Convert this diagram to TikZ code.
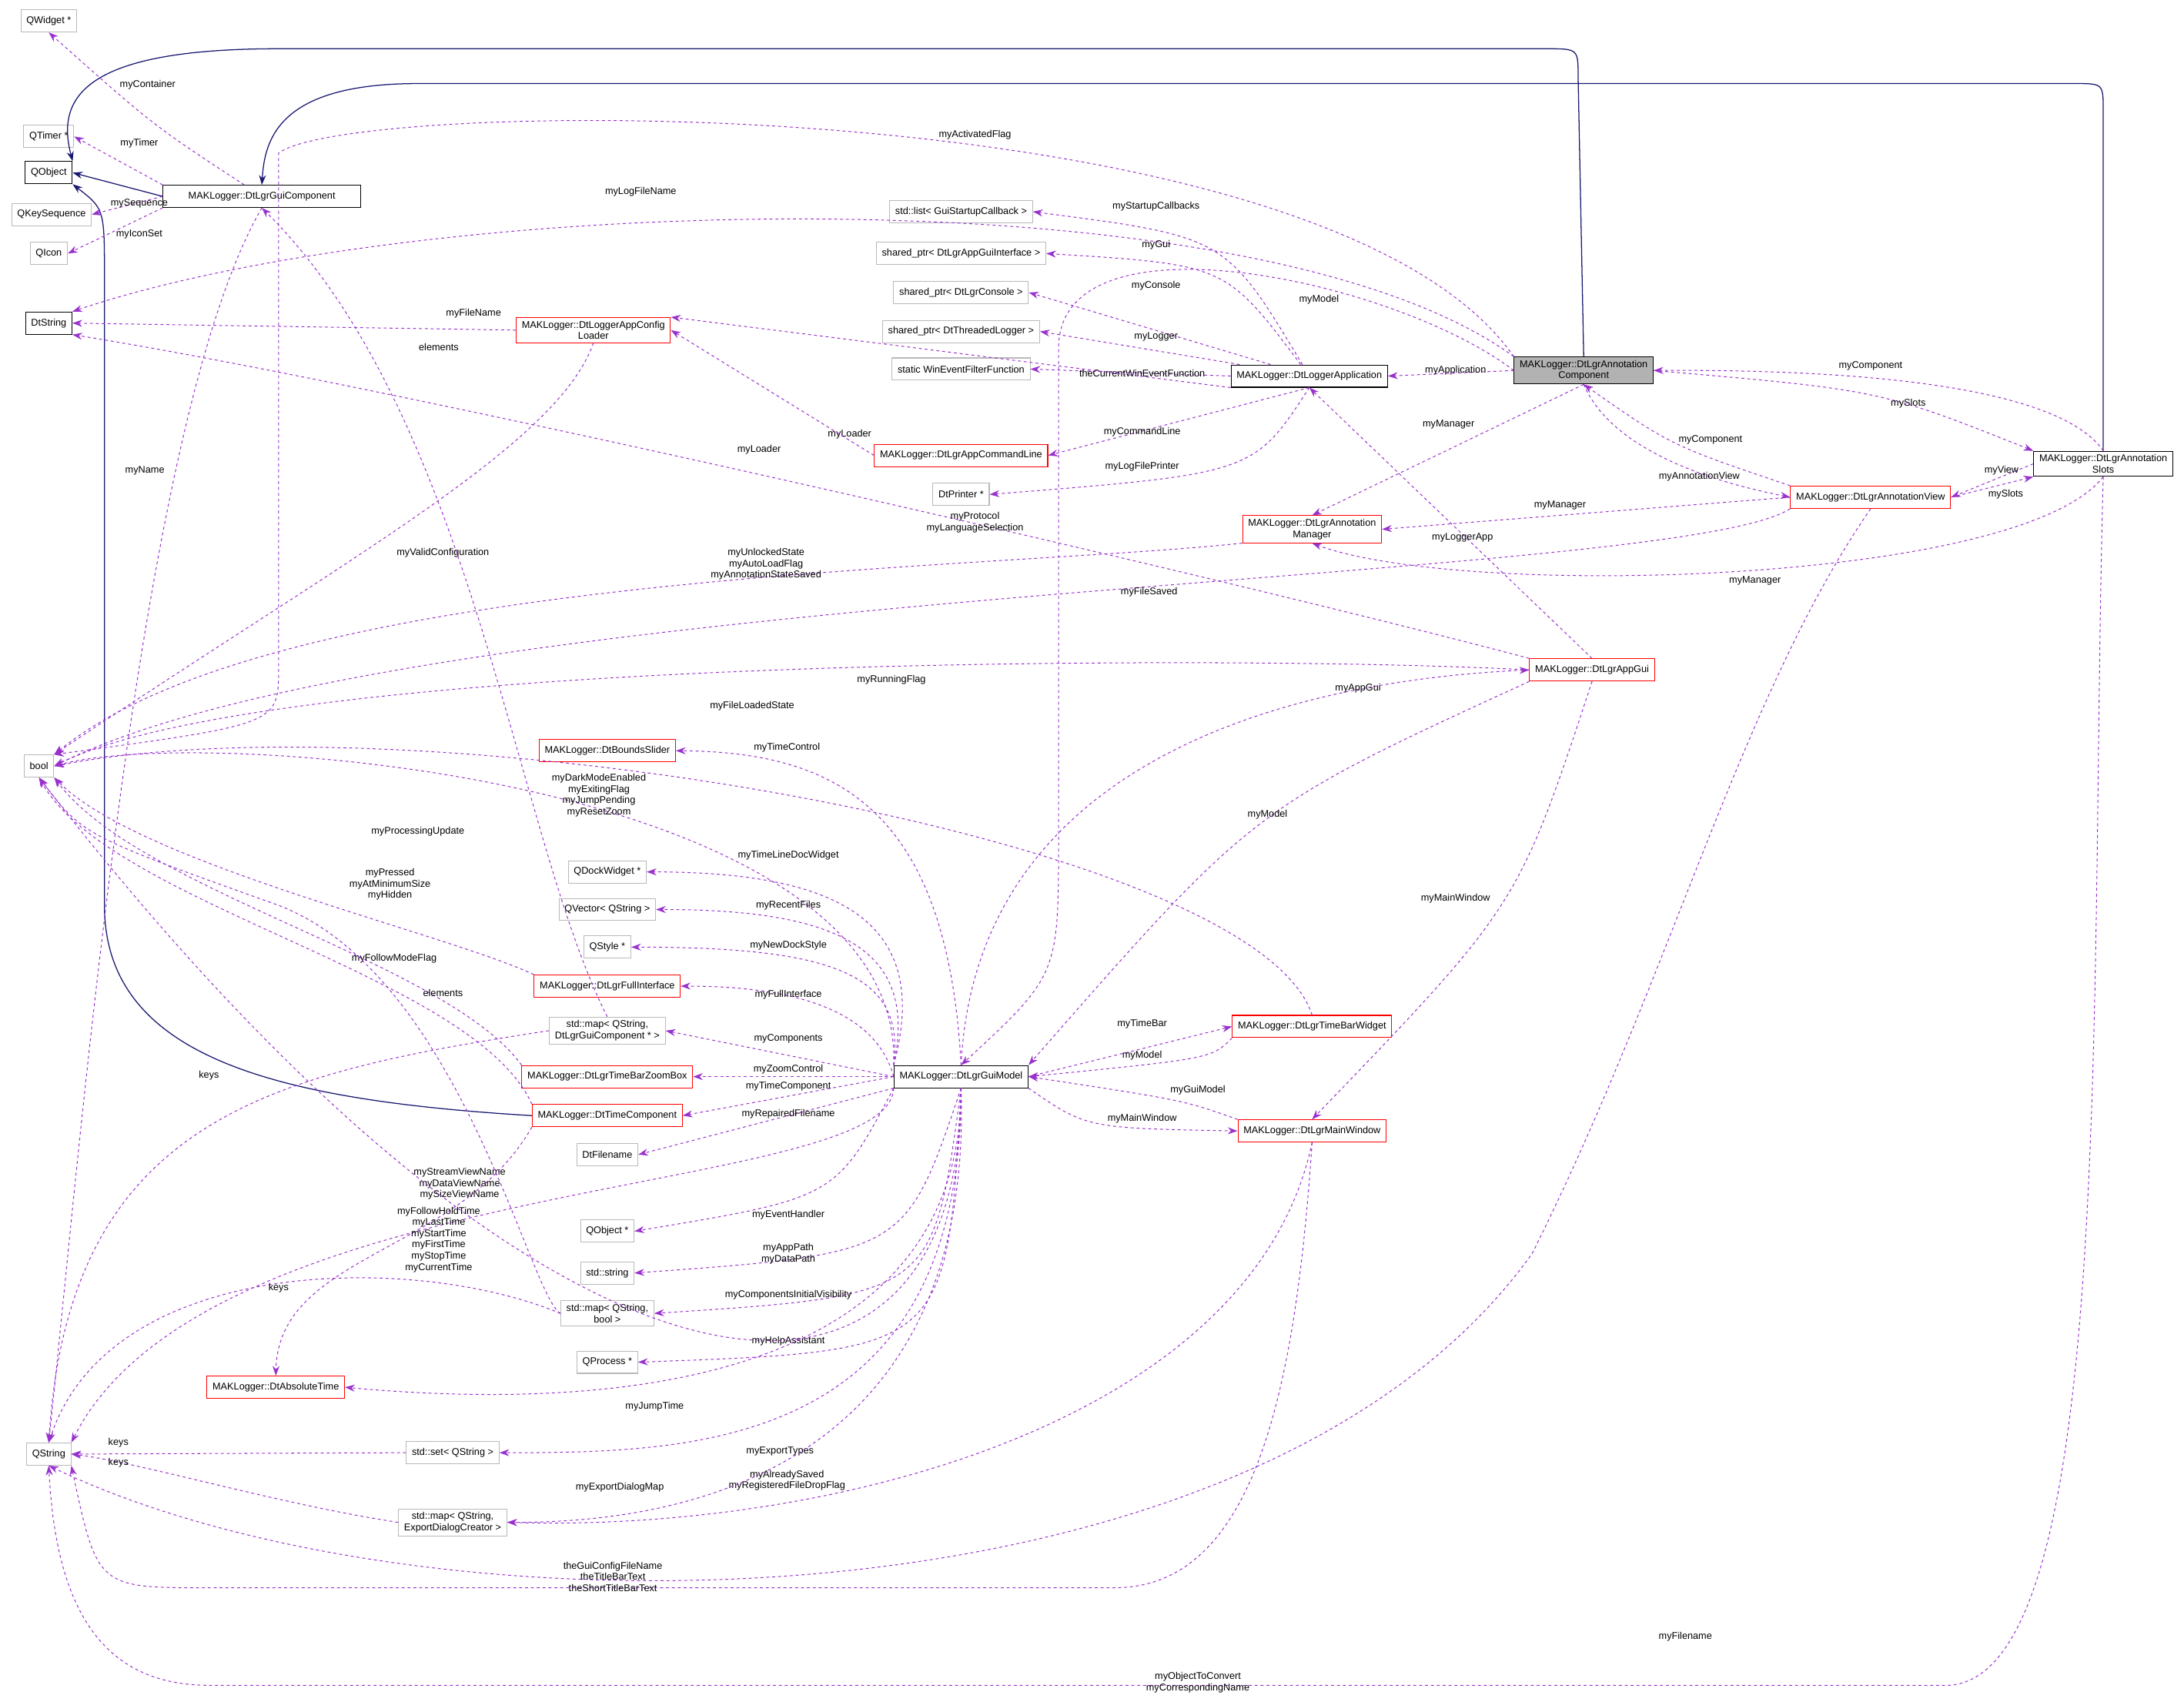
\documentclass[tikz,border=0pt]{standalone}
\usepackage{fontspec}
\setmainfont{Liberation Sans}
\usetikzlibrary{arrows.meta}
\definecolor{dep}{RGB}{153,50,205}
\definecolor{nav}{RGB}{25,25,112}
\begin{document}
\begin{tikzpicture}[x=0.05cm,y=-0.05cm,
 every node/.style={font=\fontsize{10}{11.5}\selectfont},
 b/.style={draw=black,line width=0.8pt,minimum height=0.8cm,inner xsep=0.2cm,inner ysep=0.12cm,align=center},
 g/.style={b,draw=gray!55},
 r/.style={b,draw=red},
 d/.style={dep,dashed,line width=0.8pt,-{Stealth[length=0.35cm,width=0.25cm]}},
 inh/.style={nav,line width=1pt,-{Stealth[length=0.35cm,width=0.25cm]}},
 l/.style={inner sep=1pt,align=center}]
\useasboundingbox (0,0) rectangle (1568,1222);
% nodes
\node[g] (qw) at (35,15) {QWidget *};
\node[g] (qt) at (35,98) {QTimer *};
\node[b] (qo) at (35,124) {QObject};
\node[g] (qks) at (37,154) {QKeySequence};
\node[g] (qi) at (35,182) {QIcon};
\node[b,minimum width=7.1cm] (gc) at (188,141) {MAKLogger::DtLgrGuiComponent};
\node[b] (ds) at (35,232) {DtString};
\node[r] (cl) at (426,237) {MAKLogger::DtLoggerAppConfig\\Loader};
\node[g] (bo) at (28,550) {bool};
\node[r] (bs) at (436,539) {MAKLogger::DtBoundsSlider};
\node[g] (qd) at (436,626) {QDockWidget *};
\node[g] (qv) at (436,653) {QVector< QString >};
\node[g] (qs) at (436,680) {QStyle *};
\node[r] (fi) at (436,708) {MAKLogger::DtLgrFullInterface};
\node[g] (mgc) at (436,740) {std::map< QString,\\DtLgrGuiComponent * >};
\node[r] (zb) at (436,773) {MAKLogger::DtLgrTimeBarZoomBox};
\node[r] (tc) at (436,801) {MAKLogger::DtTimeComponent};
\node[g] (fn) at (436,829) {DtFilename};
\node[g] (qop) at (436,884) {QObject *};
\node[g] (ss) at (436,914) {std::string};
\node[g] (mqb) at (436,943) {std::map< QString,\\bool >};
\node[g] (qp) at (436,978) {QProcess *};
\node[r] (at) at (198,996) {MAKLogger::DtAbsoluteTime};
\node[g] (qstr) at (35,1044) {QString};
\node[g] (set) at (325,1043) {std::set< QString >};
\node[g] (med) at (325,1093) {std::map< QString,\\ExportDialogCreator >};
\node[b] (gm) at (690,773) {MAKLogger::DtLgrGuiModel};
\node[g] (lst) at (690,152) {std::list< GuiStartupCallback >};
\node[g] (spg) at (690,182) {shared\_ptr< DtLgrAppGuiInterface >};
\node[g] (spc) at (690,210) {shared\_ptr< DtLgrConsole >};
\node[g] (spl) at (690,238) {shared\_ptr< DtThreadedLogger >};
\node[g] (sw) at (690,265) {static WinEventFilterFunction};
\node[r] (acl) at (690,327) {MAKLogger::DtLgrAppCommandLine};
\node[g] (dp) at (690,355) {DtPrinter *};
\node[b] (la) at (940,270) {MAKLogger::DtLoggerApplication};
\node[b,fill=gray!60] (ac) at (1137,266) {MAKLogger::DtLgrAnnotation\\Component};
\node[r] (am) at (942,380) {MAKLogger::DtLgrAnnotation\\Manager};
\node[r] (av) at (1343,357) {MAKLogger::DtLgrAnnotationView};
\node[b] (sl) at (1510,333) {MAKLogger::DtLgrAnnotation\\Slots};
\node[r] (ag) at (1143,481) {MAKLogger::DtLgrAppGui};
\node[r] (tb) at (942,737) {MAKLogger::DtLgrTimeBarWidget};
\node[r] (mw) at (942,812) {MAKLogger::DtLgrMainWindow};
% inheritance
\draw[inh] (ac.north) -- (1133,55) .. controls (1133,35) .. (1110,35) -- (200,35) .. controls (60,35) and (40,70) .. (qo.north east);
\draw[inh] (sl.north) -- (1510,80) .. controls (1510,60) .. (1490,60) -- (300,60) .. controls (200,60) and (190,100) .. (gc.north);
\draw[inh] (gc.west) -- (qo.east);
\draw[inh] (tc.west) .. controls (200,790) and (75,760) .. (75,650) -- (75,200) .. controls (75,150) .. (qo.south east);
% GuiComponent
\draw[d] (gc) .. controls (110,90) .. (qw.south); \node[l] at (106,61) {myContainer};
\draw[d] (gc.north west) -- (qt.east); \node[l] at (100,103) {myTimer};
\draw[d] (gc.west) -- (qks.east); \node[l] at (100,146) {mySequence};
\draw[d] (gc.south west) -- (qi.east); \node[l] at (100,168) {myIconSet};
\draw[d] (gc.south) .. controls (100,300) and (60,800) .. (qstr.north); \node[l] at (104,338) {myName};
% AnnotationComponent
\draw[d] (ac.north west) .. controls (900,120) and (300,140) .. (ds.north east); \node[l] at (460,138) {myLogFileName};
\draw[d] (ac.north west) .. controls (950,60) and (250,70) .. (200,110) -- (200,480) .. controls (200,520) .. (bo.north east); \node[l] at (700,97) {myActivatedFlag};
\draw[d] (ac.west) .. controls (1000,200) and (760,150) .. (760,250) -- (760,600) .. controls (760,700) .. (gm.north); \node[l] at (947,215) {myModel};
\draw[d] (ac.west) -- (la.east); \node[l] at (1045,266) {myApplication};
\draw[d] (ac.south) -- (am.north); \node[l] at (1040,305) {myManager};
\draw[d] (ac.east) .. controls (1350,280) .. (sl.north west); \node[l] at (1370,290) {mySlots};
\draw[d] (ac.south) .. controls (1160,330) and (1250,350) .. (av.west); \node[l] at (1220,342) {myAnnotationView};
% LoggerApplication
\draw[d] (la) .. controls (880,170) .. (lst.east); \node[l] at (830,148) {myStartupCallbacks};
\draw[d] (la) .. controls (880,190) .. (spg.east); \node[l] at (830,176) {myGui};
\draw[d] (la) -- (spc.east); \node[l] at (830,205) {myConsole};
\draw[d] (la) -- (spl.east); \node[l] at (830,242) {myLogger};
\draw[d] (la.west) -- (sw.east); \node[l] at (820,268) {theCurrentWinEventFunction};
\draw[d] (la.south west) -- (cl.north east); \node[l] at (610,312) {myLoader};
\draw[d] (la.south) -- (acl.east); \node[l] at (820,310) {myCommandLine};
\draw[d] (la.south) .. controls (900,340) .. (dp.east); \node[l] at (820,335) {myLogFilePrinter};
% ConfigLoader, CommandLine
\draw[d] (cl.west) -- (ds.east); \node[l] at (340,225) {myFileName};
\draw[d] (cl.south) .. controls (400,320) and (250,400) .. (bo.north east); \node[l] at (318,397) {myValidConfiguration};
\draw[d] (acl.west) -- (cl.east); \node[l] at (545,323) {myLoader};
% Annotation Manager, View, Slots
\draw[d] (am.south west) .. controls (700,410) and (200,410) .. (bo.north east); \node[l] at (550,405) {myUnlockedState\\myAutoLoadFlag\\myAnnotationStateSaved};
\draw[d] (av.north west) .. controls (1200,320) .. (ac.south); \node[l] at (1228,316) {myComponent};
\draw[d] (av.west) -- (am.east); \node[l] at (1120,363) {myManager};
\draw[d] (av.south west) .. controls (1200,420) and (300,420) .. (bo.east); \node[l] at (825,425) {myFileSaved};
\draw[d] (av.south) .. controls (1250,500) and (1200,700) .. (1100,900) .. controls (900,1180) and (300,1180) .. (qstr.south); \node[l] at (1210,1175) {myFilename};
\draw[d] (sl.west) -- (av.east); \node[l] at (1437,338) {myView};
\draw[d] (av.east) -- (sl.south west); \node[l] at (1440,355) {mySlots};
\draw[d] (sl.north) .. controls (1480,280) and (1350,265) .. (ac.east); \node[l] at (1343,263) {myComponent};
\draw[d] (sl.south) .. controls (1450,420) and (1050,430) .. (am.south); \node[l] at (1260,417) {myManager};
\draw[d] (sl.south) .. controls (1500,700) and (1520,1200) .. (1400,1210) -- (150,1210) .. controls (70,1210) and (40,1150) .. (qstr.south); \node[l] at (860,1208) {myObjectToConvert\\myCorrespondingName};
% AppGui
\draw[d] (ag.north) -- (la.south); \node[l] at (1050,386) {myLoggerApp};
\draw[d] (ag.north west) .. controls (900,420) and (300,280) .. (ds.south east); \node[l] at (700,375) {myProtocol\\myLanguageSelection};
\draw[d] (ag.west) .. controls (900,470) and (200,470) .. (bo.east); \node[l] at (640,488) {myRunningFlag};
\draw[d] (ag.south west) .. controls (900,580) .. (gm.north east); \node[l] at (910,585) {myModel};
\draw[d] (ag.south) .. controls (1090,650) .. (mw.north); \node[l] at (1045,645) {myMainWindow};
% GuiModel
\draw[d] (gm.north) .. controls (700,560) and (900,490) .. (ag.west); \node[l] at (975,494) {myAppGui};
\draw[d] (gm.north) .. controls (680,580) and (600,540) .. (bs.east); \node[l] at (565,537) {myTimeControl};
\draw[d] (gm.north west) .. controls (650,560) and (150,520) .. (bo.east); \node[l] at (430,571) {myDarkModeEnabled\\myExitingFlag\\myJumpPending\\myResetZoom};
\draw[d] (gm.north west) .. controls (670,660) and (600,626) .. (qd.east); \node[l] at (566,614) {myTimeLineDocWidget};
\draw[d] (gm.north west) .. controls (660,680) and (600,653) .. (qv.east); \node[l] at (566,650) {myRecentFiles};
\draw[d] (gm.north west) .. controls (650,700) and (600,680) .. (qs.east); \node[l] at (566,679) {myNewDockStyle};
\draw[d] (gm.west) .. controls (630,730) and (580,708) .. (fi.east); \node[l] at (566,714) {myFullInterface};
\draw[d] (gm.west) -- (mgc.east); \node[l] at (566,746) {myComponents};
\draw[d] (gm.west) -- (zb.east); \node[l] at (566,768) {myZoomControl};
\draw[d] (gm.west) -- (tc.east); \node[l] at (566,780) {myTimeComponent};
\draw[d] (gm.south west) -- (fn.east); \node[l] at (566,800) {myRepairedFilename};
\draw[d] (gm.south west) .. controls (600,860) .. (qop.east); \node[l] at (566,872) {myEventHandler};
\draw[d] (gm.south) .. controls (650,900) .. (ss.east); \node[l] at (566,900) {myAppPath\\myDataPath};
\draw[d] (gm.south) .. controls (670,930) .. (mqb.east); \node[l] at (566,930) {myComponentsInitialVisibility};
\draw[d] (gm.south) .. controls (680,970) .. (qp.east); \node[l] at (566,963) {myHelpAssistant};
\draw[d] (gm.south west) .. controls (640,860) and (150,840) .. (qstr.north east); \node[l] at (330,850) {myStreamViewName\\myDataViewName\\mySizeViewName};
\draw[d] (gm.south) .. controls (690,1010) and (400,1010) .. (at.east); \node[l] at (470,1010) {myJumpTime};
\draw[d] (gm.south) .. controls (690,1040) and (500,1043) .. (set.east); \node[l] at (560,1042) {myExportTypes};
\draw[d] (gm.south) .. controls (690,1060) and (400,1040) .. (bo.south); \node[l] at (565,1063) {myAlreadySaved\\myRegisteredFileDropFlag};
\draw[d] (gm.south) .. controls (700,1080) and (450,1093) .. (med.east); \node[l] at (445,1068) {myExportDialogMap};
\draw[d] (gm.east) -- (tb.west); \node[l] at (820,735) {myTimeBar};
\draw[d] (gm.south east) .. controls (780,810) .. (mw.west); \node[l] at (820,803) {myMainWindow};
% TimeBarWidget, MainWindow
\draw[d] (tb.south west) .. controls (870,760) .. (gm.east); \node[l] at (820,758) {myModel};
\draw[d] (tb.north) .. controls (900,600) and (300,500) .. (bo.east); \node[l] at (540,507) {myFileLoadedState};
\draw[d] (mw.north west) .. controls (850,790) .. (gm.east); \node[l] at (860,783) {myGuiModel};
\draw[d] (mw.south) .. controls (930,1000) and (900,1140) .. (800,1140) -- (150,1140) .. controls (70,1140) .. (qstr.south east); \node[l] at (440,1132) {theGuiConfigFileName\\theTitleBarText\\theShortTitleBarText};
\draw[d] (mw.south) .. controls (900,1020) and (600,1100) .. (med.east);
% others
\draw[d] (fi.north west) .. controls (320,670) and (100,620) .. (bo.south east); \node[l] at (300,597) {myProcessingUpdate};
\draw[d] (zb.north west) .. controls (320,690) and (100,640) .. (bo.south east); \node[l] at (280,635) {myPressed\\myAtMinimumSize\\myHidden};
\draw[d] (tc.north west) .. controls (340,700) and (80,650) .. (bo.south); \node[l] at (283,688) {myFollowModeFlag};
\draw[d] (tc.south west) .. controls (330,900) and (200,900) .. (at.north); \node[l] at (315,890) {myFollowHoldTime\\myLastTime\\myStartTime\\myFirstTime\\myStopTime\\myCurrentTime};
\draw[d] (mgc.west) .. controls (200,770) and (50,800) .. (qstr.north); \node[l] at (150,772) {keys};
\draw[d] (mgc.north) .. controls (370,600) and (340,300) .. (gc.south); \node[l] at (315,249) {elements};
\draw[d] (mqb.west) .. controls (300,900) and (80,900) .. (qstr.north); \node[l] at (200,925) {keys};
\draw[d] (mqb.west) .. controls (380,930) and (330,700) .. (200,650) .. controls (60,600) .. (bo.south); \node[l] at (318,713) {elements};
\draw[d] (set.west) -- (qstr.east); \node[l] at (85,1036) {keys};
\draw[d] (med.west) .. controls (200,1080) and (100,1050) .. (qstr.east); \node[l] at (85,1050) {keys};
\end{tikzpicture}
\end{document}
